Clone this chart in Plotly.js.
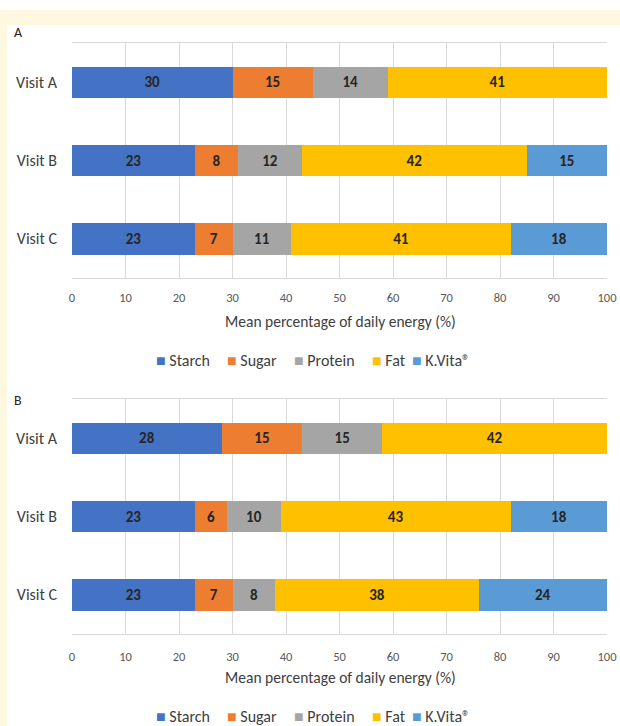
<!DOCTYPE html>
<html>
<head>
<meta charset="utf-8">
<script src="https://cdn.plot.ly/plotly-3.0.1.min.js"></script>
<style>
html,body{margin:0;padding:0;background:#fff;}
#chart{width:620px;height:726px;}
</style>
</head>
<body>
<div id="chart"></div>
<script>
// ---- data ----
const visits = ["Visit A", "Visit B", "Visit C"];
const components = ["Starch", "Sugar", "Protein", "Fat", "K.Vita®"];
const colors = ["#4472C4", "#ED7D31", "#A5A5A5", "#FFC000", "#5B9BD5"];

// Panel A
const aStarch  = [30, 23, 23];
const aSugar   = [15, 8, 7];
const aProtein = [14, 12, 11];
const aFat     = [41, 42, 41];
const aKVita   = [null, 15, 18];

// Panel B
const bStarch  = [28, 23, 23];
const bSugar   = [15, 6, 7];
const bProtein = [15, 10, 8];
const bFat     = [42, 43, 38];
const bKVita   = [null, 18, 24];

const xTicks = [0, 10, 20, 30, 40, 50, 60, 70, 80, 90, 100];
const xTitle = "Mean percentage of daily energy (%)";

// ---- build ----
const W = 620, H = 726;
const px = v => v / W;
const py = v => 1 - v / H;
const FONT = "Carlito, Lato, 'Liberation Sans', sans-serif";

const panelA = [aStarch, aSugar, aProtein, aFat, aKVita];
const panelB = [bStarch, bSugar, bProtein, bFat, bKVita];

const traces = [];
function addPanel(series, xa, ya) {
  series.forEach((vals, i) => {
    traces.push({
      type: "bar",
      orientation: "h",
      name: components[i],
      y: visits,
      x: vals,
      xaxis: xa,
      yaxis: ya,
      showlegend: false,
      marker: { color: colors[i], line: { width: 0 } },
      text: vals.map(v => (v === null ? "" : String(v))),
      textposition: "inside",
      insidetextanchor: "middle",
      textangle: 0,
      constraintext: "none",
      textfont: { family: FONT, size: 15, color: "#262626", weight: "bold" },
      hoverinfo: "name+x"
    });
  });
}
addPanel(panelA, "x", "y");
addPanel(panelB, "x2", "y2");

const xaxisBase = {
  range: [0, 100],
  tickvals: xTicks,
  ticktext: xTicks.map(String),
  showgrid: true,
  gridcolor: "#d9d9d9",
  gridwidth: 1,
  zeroline: false,
  showline: true,
  linecolor: "#d9d9d9",
  mirror: true,
  ticks: "",
  tickfont: { family: FONT, size: 12.5, color: "#595959" },
  fixedrange: true
};
const yaxisBase = {
  autorange: "reversed",
  type: "category",
  showgrid: false,
  zeroline: false,
  showline: false,
  ticks: "",
  ticklabelstandoff: 14,
  tickfont: { family: FONT, size: 16, color: "#404040" },
  fixedrange: true
};

const annotations = [
  { text: xTitle, xref: "paper", yref: "paper", x: px(340), y: py(321), xanchor: "center", yanchor: "middle",
    showarrow: false, font: { family: FONT, size: 15.5, color: "#404040" } },
  { text: xTitle, xref: "paper", yref: "paper", x: px(340), y: py(677), xanchor: "center", yanchor: "middle",
    showarrow: false, font: { family: FONT, size: 15.5, color: "#404040" } },
  { text: "A", xref: "paper", yref: "paper", x: px(12), y: py(33), xanchor: "left", yanchor: "middle",
    showarrow: false, font: { family: FONT, size: 14, color: "#262626" } },
  { text: "B", xref: "paper", yref: "paper", x: px(12), y: py(400), xanchor: "left", yanchor: "middle",
    showarrow: false, font: { family: FONT, size: 14, color: "#262626" } }
];

// legend entries (drawn as text so the small Excel-style swatches sit next to names)
const legendX = [154, 225, 292, 370, 410];
function addLegend(yPix) {
  components.forEach((name, i) => {
    annotations.push({
      text: '<span style="color:' + colors[i] + '">■</span> ' + name,
      xref: "paper", yref: "paper", x: px(legendX[i]), y: py(yPix),
      xanchor: "left", yanchor: "middle", showarrow: false,
      font: { family: FONT, size: 16, color: "#404040" }
    });
  });
}
addLegend(360);
addLegend(716);

const layout = {
  width: W,
  height: H,
  margin: { l: 0, r: 0, t: 0, b: 0 },
  paper_bgcolor: "#ffffff",
  plot_bgcolor: "#ffffff",
  barmode: "stack",
  bargap: 0.6,
  font: { family: FONT, color: "#404040" },
  showlegend: false,
  xaxis: Object.assign({}, xaxisBase, { domain: [px(72), px(607)], anchor: "y", ticklabelstandoff: 8 }),
  yaxis: Object.assign({}, yaxisBase, { domain: [py(278), py(43)], anchor: "x" }),
  xaxis2: Object.assign({}, xaxisBase, { domain: [px(72), px(607)], anchor: "y2", ticklabelstandoff: 11 }),
  yaxis2: Object.assign({}, yaxisBase, { domain: [py(634), py(399)], anchor: "x2" }),
  shapes: [
    { type: "rect", xref: "paper", yref: "paper", x0: 0, x1: 1, y0: py(25), y1: py(10),
      fillcolor: "#FFF8E1", line: { width: 0 }, layer: "below" },
    { type: "rect", xref: "paper", yref: "paper", x0: 0, x1: px(7), y0: 0, y1: py(25),
      fillcolor: "#FFF8E1", line: { width: 0 }, layer: "below" }
  ],
  annotations: annotations
};

Plotly.newPlot("chart", traces, layout, { displayModeBar: false, staticPlot: true });
</script>
</body>
</html>
